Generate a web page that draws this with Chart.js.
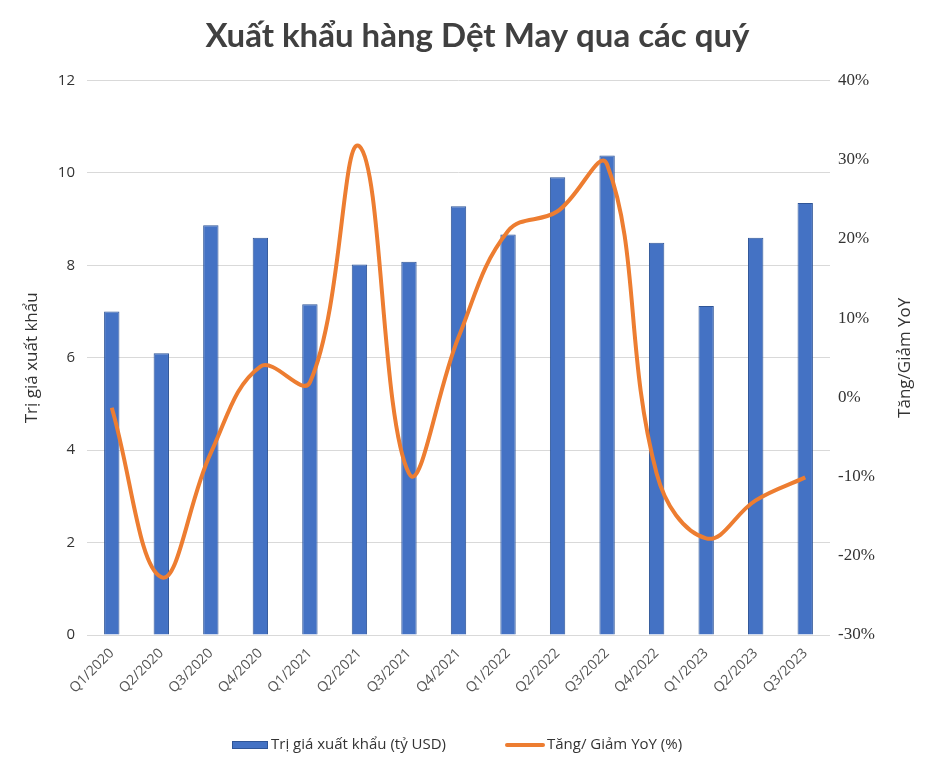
<!DOCTYPE html>
<html>
<head>
<meta charset="utf-8">
<script src="https://cdn.jsdelivr.net/npm/chart.js@4"></script>
<style>
    html, body { margin: 0; padding: 0; background: #fff; }
    #wrap { width: 933px; height: 778px; }
</style>
</head>
<body>
<div id="wrap"><canvas id="chart" width="933" height="778"></canvas></div>
<script>
// ─── Data ─────────────────────────────────────────────────────────────────────
const quarters = ['Q1/2020', 'Q2/2020', 'Q3/2020', 'Q4/2020', 'Q1/2021', 'Q2/2021', 'Q3/2021', 'Q4/2021',
                  'Q1/2022', 'Q2/2022', 'Q3/2022', 'Q4/2022', 'Q1/2023', 'Q2/2023', 'Q3/2023'];
const exportValue = [7.0, 6.1, 8.87, 8.6, 7.16, 8.02, 8.08, 9.28, 8.67, 9.91, 10.38, 8.49, 7.12, 8.6, 9.35];
const yoyChange   = [-1.3, -22.7, -7.0, 3.9, 1.9, 31.7, -9.6, 7.6, 21.0, 23.5, 29.4, -9.6, -17.8, -13.0, -10.1];

const BLUE   = '#4472C4';
const ORANGE = '#ED7D31';
const FONT   = '"Open Sans"';

// right axis title reads bottom-to-top, and the legend is spaced wider than
// Chart.js does it, so both are drawn by hand
const extras = {
    id: 'extras',
    afterDraw(chart) {
        const { ctx, chartArea } = chart;
        ctx.save();

        // ─── right axis title ───
        ctx.translate(905, (chartArea.top + chartArea.bottom) / 2);
        ctx.rotate(-Math.PI / 2);
        ctx.font = '17px ' + FONT;
        ctx.fillStyle = '#333';
        ctx.textAlign = 'center';
        ctx.textBaseline = 'middle';
        ctx.fillText('Tăng/Giảm YoY', 0, 0);
        ctx.setTransform(1, 0, 0, 1, 0, 0);

        // ─── legend ───
        const y = 745;
        ctx.font = '15px ' + FONT;
        ctx.textAlign = 'left';
        const bars = chart.data.datasets[1];
        const line = chart.data.datasets[0];

        ctx.fillStyle = BLUE;
        ctx.fillRect(232, y - 4, 36, 8);
        ctx.strokeStyle = '#2F5597';
        ctx.lineWidth = 1;
        ctx.strokeRect(232.5, y - 3.5, 35, 7);
        ctx.fillStyle = '#333';
        ctx.fillText(bars.label, 271, y);

        ctx.strokeStyle = ORANGE;
        ctx.lineWidth = 4;
        ctx.lineCap = 'round';
        ctx.beginPath();
        ctx.moveTo(507, y);
        ctx.lineTo(543, y);
        ctx.stroke();
        ctx.fillText(line.label, 547, y);

        ctx.restore();
    }
};

new Chart(document.getElementById('chart'), {
    data: {
        labels: quarters,
        datasets: [
            {
                type: 'line',
                label: 'Tăng/ Giảm YoY (%)',
                data: yoyChange,
                yAxisID: 'y1',
                borderColor: ORANGE,
                backgroundColor: ORANGE,
                borderWidth: 4,
                pointRadius: 0,
                tension: 0.4,
                order: 0
            },
            {
                type: 'bar',
                label: 'Trị giá xuất khẩu (tỷ USD)',
                data: exportValue,
                yAxisID: 'y',
                backgroundColor: BLUE,
                borderColor: '#2F5597',
                borderWidth: 1,
                barPercentage: 0.31,
                categoryPercentage: 1,
                order: 1
            }
        ]
    },
    options: {
        responsive: false,
        animation: false,
        layout: { padding: { top: 0, left: 22, right: 0, bottom: 61 } },
        plugins: {
            title: {
                display: true,
                text: 'Xuất khẩu hàng Dệt May qua các quý',
                color: '#404040',
                font: { family: 'Lato', size: 33, weight: 'bold' },
                padding: { top: 17, bottom: 24 }
            },
            legend: { display: false },
            tooltip: { enabled: false }
        },
        scales: {
            x: {
                grid: { display: false },
                border: { display: false },
                ticks: {
                    color: '#555',
                    font: { family: 'Open Sans', size: 14 },
                    minRotation: 45,
                    maxRotation: 45,
                    padding: 2
                },
                afterFit(scale) { scale.height = 82; }
            },
            y: {
                position: 'left',
                min: 0,
                max: 12,
                ticks: {
                    stepSize: 2,
                    color: '#333',
                    font: { family: 'Open Sans', size: 15 },
                    padding: 12
                },
                grid: { color: '#d9d9d9', lineWidth: 1, drawTicks: false },
                border: { display: false },
                title: {
                    display: true,
                    text: 'Trị giá xuất khẩu',
                    color: '#333',
                    font: { family: 'Open Sans', size: 17 },
                    padding: { top: 0, bottom: 10 }
                },
                afterFit(scale) { scale.width = 65; }
            },
            y1: {
                position: 'right',
                min: -30,
                max: 40,
                ticks: {
                    stepSize: 10,
                    color: '#333',
                    font: { family: 'Liberation Serif', size: 17 },
                    padding: 8,
                    callback: v => v + '%'
                },
                grid: { display: false, drawTicks: false },
                border: { display: false },
                afterFit(scale) { scale.width = 103; }
            }
        }
    },
    plugins: [extras]
});
</script>
</body>
</html>
